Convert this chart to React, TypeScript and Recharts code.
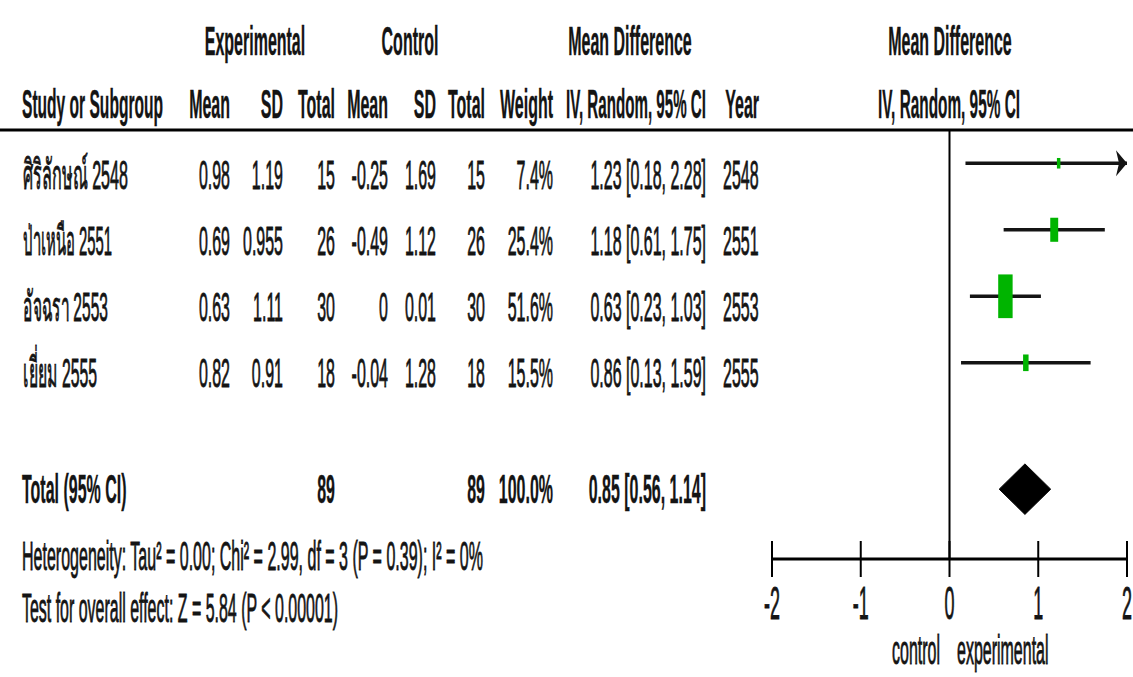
import React from 'react';
import { ComposedChart, Scatter, Area, XAxis, YAxis, ReferenceLine } from 'recharts';

// study rows
const studies = ['ศิริลักษณ์ 2548', 'ป่าเหนือ 2551', 'อัจฉรา 2553', 'เยี่ยม 2555'];
const expMean = [0.98, 0.69, 0.63, 0.82];
const expSD = [1.19, 0.955, 1.11, 0.91];
const expTotal = [15, 26, 30, 18];
const ctlMean = [-0.25, -0.49, 0, -0.04];
const ctlSD = [1.69, 1.12, 0.01, 1.28];
const ctlTotal = [15, 26, 30, 18];
const weights = [7.4, 25.4, 51.6, 15.5];
const meanDiff = [1.23, 1.18, 0.63, 0.86];
const ciLow = [0.18, 0.61, 0.23, 0.13];
const ciHigh = [2.28, 1.75, 1.03, 1.59];
const years = [2548, 2551, 2553, 2555];

// pooled result
const totalN = [89, 89];
const totalMD = 0.85;
const totalLow = 0.56;
const totalHigh = 1.14;

const xTicks = [-2, -1, 0, 1, 2];
const X_MIN = -2;
const X_MAX = 2;

const W = 1133;
const H = 677;
const FS = 41;
const SX = 0.39; // squeezed font look of the original
const FONT = '"Liberation Sans", Arial, sans-serif';
const INK = '#141414';
const GREEN = '#00b400';
const TOTAL_ROW = 5.9;
const DIAMOND_HALF = 0.38;

const points = studies.map((s, i) => ({ x: meanDiff[i], y: i + 1, w: weights[i] }));
// CI lines stop at the axis edge; an arrow marks the cut
const ciSegments = studies.map((s, i) => [
  { x: Math.max(ciLow[i], X_MIN), y: i + 1 },
  { x: Math.min(ciHigh[i], X_MAX), y: i + 1 },
]);
const arrows = studies
  .map((s, i) => ({ x: X_MAX, y: i + 1, hi: ciHigh[i] }))
  .filter((d) => d.hi > X_MAX);
const diamond = [
  { x: totalLow, r: [TOTAL_ROW, TOTAL_ROW] },
  { x: totalMD, r: [TOTAL_ROW - DIAMOND_HALF, TOTAL_ROW + DIAMOND_HALF] },
  { x: totalHigh, r: [TOTAL_ROW, TOTAL_ROW] },
];

const fmt2 = (v: number) => v.toFixed(2);

function Square(props: any) {
  const { cx, cy, payload } = props;
  const h = 0.75 * payload.w + 5;
  const w = h * 0.33;
  return <rect x={cx - w / 2} y={cy - h / 2} width={w} height={h} fill={GREEN} />;
}

function NoDot() {
  return <g />;
}

function Arrow(props: any) {
  const { cx, cy } = props;
  return <polygon points={`${cx},${cy} ${cx - 11},${cy - 13} ${cx - 8},${cy} ${cx - 11},${cy + 13}`} fill={INK} />;
}

function AxisTick(props: any) {
  const { x, y, payload } = props;
  return (
    <g>
      <line x1={x} y1={y - 18} x2={x} y2={y + 18} stroke="#000" strokeWidth={2} />
      <text
        transform={`translate(${x},${y + 60}) scale(${SX},1)`}
        textAnchor="middle"
        fontSize={46}
        fontFamily={FONT}
        fill={INK}
        stroke={INK}
        strokeWidth={0.9}
      >
        {payload.value}
      </text>
    </g>
  );
}

function Txt({ x, y, anchor = 'start', bold = false, len, children }: any) {
  return (
    <text
      x={x / SX}
      y={y}
      textAnchor={anchor}
      fontWeight={bold ? 700 : 400}
      stroke={INK}
      strokeWidth={bold ? 0.4 : 0.9}
      textLength={len ? len / SX : undefined}
      lengthAdjust={len ? 'spacingAndGlyphs' : undefined}
    >
      {children}
    </text>
  );
}

// right edges of numeric columns
const colRight = [230, 283, 335, 388, 436, 485, 553, 706];
const nameLen = [105, 89, 85, 74];
const rowBase = [189, 255, 321, 387];

function Table() {
  return (
    <svg width={W} height={H} style={{ position: 'absolute', left: 0, top: 0 }}>
      <line x1={0} y1={130} x2={W} y2={130} stroke="#000" strokeWidth={3} />
      <g transform={`scale(${SX},1)`} fontFamily={FONT} fontSize={FS} fill={INK}>
        <Txt x={255} y={55} anchor="middle" bold>Experimental</Txt>
        <Txt x={410} y={55} anchor="middle" bold>Control</Txt>
        <Txt x={630} y={55} anchor="middle" bold>Mean Difference</Txt>
        <Txt x={950} y={55} anchor="middle" bold>Mean Difference</Txt>

        <Txt x={22} y={118} bold len={141}>Study or Subgroup</Txt>
        <Txt x={colRight[0]} y={118} anchor="end" bold>Mean</Txt>
        <Txt x={colRight[1]} y={118} anchor="end" bold>SD</Txt>
        <Txt x={colRight[2]} y={118} anchor="end" bold>Total</Txt>
        <Txt x={colRight[3]} y={118} anchor="end" bold>Mean</Txt>
        <Txt x={colRight[4]} y={118} anchor="end" bold>SD</Txt>
        <Txt x={colRight[5]} y={118} anchor="end" bold>Total</Txt>
        <Txt x={colRight[6]} y={118} anchor="end" bold>Weight</Txt>
        <Txt x={colRight[7]} y={118} anchor="end" bold len={140}>IV, Random, 95% CI</Txt>
        <Txt x={759} y={118} anchor="end" bold>Year</Txt>
        <Txt x={949} y={118} anchor="middle" bold len={142}>IV, Random, 95% CI</Txt>

        {studies.map((s, i) => (
          <g key={s}>
            <Txt x={23} y={rowBase[i]} len={nameLen[i]}>{s}</Txt>
            <Txt x={colRight[0]} y={rowBase[i]} anchor="end">{String(expMean[i])}</Txt>
            <Txt x={colRight[1]} y={rowBase[i]} anchor="end">{String(expSD[i])}</Txt>
            <Txt x={colRight[2]} y={rowBase[i]} anchor="end">{expTotal[i]}</Txt>
            <Txt x={colRight[3]} y={rowBase[i]} anchor="end">{String(ctlMean[i])}</Txt>
            <Txt x={colRight[4]} y={rowBase[i]} anchor="end">{String(ctlSD[i])}</Txt>
            <Txt x={colRight[5]} y={rowBase[i]} anchor="end">{ctlTotal[i]}</Txt>
            <Txt x={colRight[6]} y={rowBase[i]} anchor="end">{weights[i].toFixed(1)}%</Txt>
            <Txt x={colRight[7]} y={rowBase[i]} anchor="end">
              {`${fmt2(meanDiff[i])} [${fmt2(ciLow[i])}, ${fmt2(ciHigh[i])}]`}
            </Txt>
            <Txt x={723} y={rowBase[i]}>{years[i]}</Txt>
          </g>
        ))}

        <Txt x={22} y={503} bold>Total (95% CI)</Txt>
        <Txt x={colRight[2]} y={503} anchor="end" bold>{totalN[0]}</Txt>
        <Txt x={colRight[5]} y={503} anchor="end" bold>{totalN[1]}</Txt>
        <Txt x={colRight[6]} y={503} anchor="end" bold>100.0%</Txt>
        <Txt x={colRight[7]} y={503} anchor="end" bold>
          {`${fmt2(totalMD)} [${fmt2(totalLow)}, ${fmt2(totalHigh)}]`}
        </Txt>

        <Txt x={22} y={570} len={461}>Heterogeneity: Tau² = 0.00; Chi² = 2.99, df = 3 (P = 0.39); I² = 0%</Txt>
        <Txt x={22} y={622} len={316}>Test for overall effect: Z = 5.84 (P &lt; 0.00001)</Txt>

        <Txt x={940} y={664} anchor="end">control</Txt>
        <Txt x={957} y={664}>experimental</Txt>
      </g>
    </svg>
  );
}

export default function App() {
  return (
    <div style={{ position: 'absolute', left: 0, top: 0, width: W, height: H, background: '#fff', overflow: 'hidden' }}>
      <ComposedChart width={W} height={H} margin={{ top: 130, right: 6, bottom: 58, left: 772 }}>
        <XAxis
          type="number"
          dataKey="x"
          domain={[X_MIN, X_MAX]}
          ticks={xTicks}
          allowDataOverflow
          height={60}
          tickSize={0}
          tickMargin={0}
          tickLine={false}
          axisLine={{ stroke: '#000', strokeWidth: 3 }}
          tick={<AxisTick />}
        />
        <YAxis type="number" dataKey="y" domain={[0.5, 6.95]} reversed hide allowDataOverflow />
        <ReferenceLine x={0} stroke="#000" strokeWidth={2} />
        <Area
          data={diamond}
          dataKey="r"
          type="linear"
          stroke="#000"
          fill="#000"
          fillOpacity={1}
          dot={false}
          activeDot={false}
          isAnimationActive={false}
        />
        {ciSegments.map((seg, i) => (
          <Scatter
            key={i}
            data={seg}
            line={{ stroke: INK, strokeWidth: 3.5 }}
            shape={<NoDot />}
            isAnimationActive={false}
          />
        ))}
        <Scatter data={points} shape={<Square />} isAnimationActive={false} />
        <Scatter data={arrows} shape={<Arrow />} isAnimationActive={false} />
      </ComposedChart>
      <Table />
    </div>
  );
}
